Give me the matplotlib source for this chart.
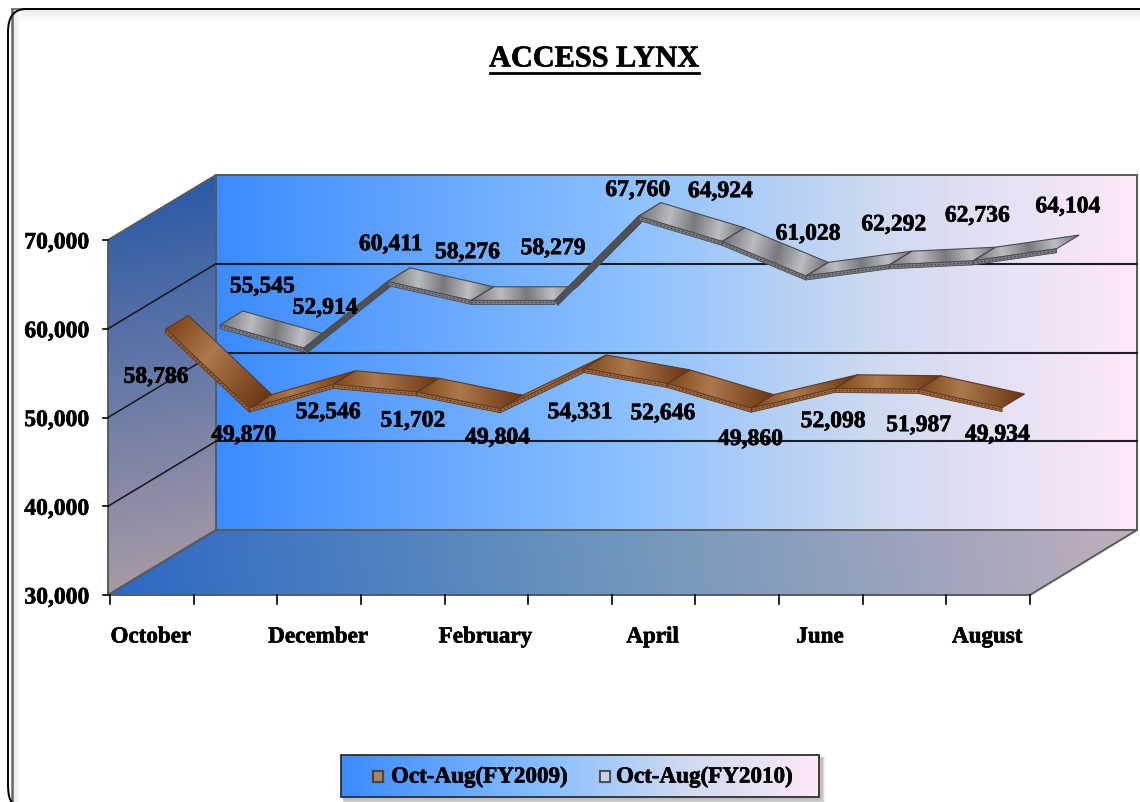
import numpy as np
import matplotlib
matplotlib.use("Agg")
import matplotlib.pyplot as plt
import matplotlib.patheffects as pe
from matplotlib.colors import LinearSegmentedColormap
from matplotlib.patches import Polygon, PathPatch, Rectangle
from matplotlib.path import Path

plt.rcParams["font.family"] = ["Liberation Serif", "DejaVu Serif"]
plt.rcParams["font.weight"] = "bold"

# Monthly values
FY2009 = [58786, 49870, 52546, 51702, 49804, 54331, 52646, 49860, 52098, 51987, 49934]
FY2010 = [55545, 52914, 60411, 58276, 58279, 67760, 64924, 61028, 62292, 62736, 64104]
MONTHS = ["October", "December", "February", "April", "June", "August"]
Y_TICKS = [30000, 40000, 50000, 60000, 70000]
SERIES_NAMES = ["Oct-Aug(FY2009)", "Oct-Aug(FY2010)"]

# Where each value label sits relative to the middle of its ribbon, in pixels
OFFSETS_2009 = [(-21, 50), (-17, 29), (-16, 30), (-15, 31), (-14, 31), (-15, 46),
                (-16, 32), (-12, 33), (-13, 35), (-11, 38), (-16, 29)]
OFFSETS_2010 = [(31, -36), (10, -38), (-8, -35), (-15, -46), (-13, -50), (-12, -24),
                (-13, -48), (-9, -40), (-7, -38), (-7, -43), (0, -40)]

# Projection of the box: front plane plus a depth vector towards the back wall
X0, X1 = 110, 1030
Y_BASE = 596
PX_PER_UNIT = 88.75 / 10000
DEPTH_X, DEPTH_Y = 107, -65
CAT_W = (X1 - X0) / len(FY2009)

HEAVY = [pe.withStroke(linewidth=0.45, foreground="black")]


def project(i, value, depth=0.0):
    x = X0 + (i + 0.5) * CAT_W + depth * DEPTH_X
    y = Y_BASE - (value - Y_TICKS[0]) * PX_PER_UNIT + depth * DEPTH_Y
    return x, y


def value_y(value):
    return Y_BASE - (value - Y_TICKS[0]) * PX_PER_UNIT


def gradient(ax, poly, cmap, direction, zorder=1):
    """Fill a polygon with a linear gradient along direction."""
    poly = np.asarray(poly, dtype=float)
    xmin, ymin = np.floor(poly.min(axis=0))
    xmax, ymax = np.ceil(poly.max(axis=0))
    xs = np.arange(xmin, xmax + 1)
    ys = np.arange(ymin, ymax + 1)
    gx, gy = np.meshgrid(xs, ys)
    d = np.asarray(direction, dtype=float)
    d = d / np.hypot(*d)
    along = poly @ d
    t = (gx * d[0] + gy * d[1] - along.min()) / max(along.max() - along.min(), 1e-6)
    im = ax.imshow(np.clip(t, 0, 1), cmap=cmap, vmin=0, vmax=1, aspect="auto",
                   extent=(xmin - 0.5, xmax + 0.5, ymax + 0.5, ymin - 0.5),
                   interpolation="bilinear", zorder=zorder)
    im.set_clip_path(Polygon(poly, closed=True, transform=ax.transData))


def ramp(colors):
    return LinearSegmentedColormap.from_list("ramp", colors)


WALL = ramp([(0, "#3b8bff"), (0.45, "#8cc1ff"), (0.72, "#cfdaf0"), (1, "#fde8f8")])
SIDE = ramp(["#2a5aa6", "#a89aa6"])
FLOOR = ramp(["#2c68c4", "#6f97bc", "#c0aebc"])
COPPER = ramp([(0, "#7f4719"), (0.4, "#ac794d"), (1, "#6a3410")])
STEEL = ramp([(0, "#707276"), (0.28, "#b9bbbe"), (0.52, "#77797d"), (0.76, "#bcbec1"), (1, "#6c6e72")])
SHADE = ramp(["#e8e8e8", "#ffffff"])


def ribbon(ax, values, d0, d1, cmap, band, under, edge, zorder):
    lift = -2
    thick = 4
    for i in range(len(values) - 1):
        a = np.array(project(i, values[i], d0)) + (0, lift)
        b = np.array(project(i + 1, values[i + 1], d0)) + (0, lift)
        c = np.array(project(i + 1, values[i + 1], d1)) + (0, lift)
        e = np.array(project(i, values[i], d1)) + (0, lift)
        run = b - a
        facing_up = run[0] * DEPTH_Y - run[1] * DEPTH_X < 0
        quad = [a, b, c, e]
        if facing_up:
            # sheen runs along the strip, slightly skewed
            gradient(ax, quad, cmap, (run[0] + 6, run[1] - 10), zorder=zorder)
            ax.add_patch(Polygon(quad, closed=True, fill=False, ec=edge, lw=0.8, zorder=zorder + 0.1))
            side = [a, b, b + (0, thick), a + (0, thick)]
            ax.add_patch(Polygon(side, closed=True, fc=band, ec=edge, lw=0.6, zorder=zorder + 0.2))
            ax.plot([a[0], b[0]], [a[1] + thick / 2, b[1] + thick / 2], color=edge, lw=0.9,
                    ls=(0, (1.5, 1.5)), zorder=zorder + 0.3)
        else:
            # underside shows when the line climbs steeply
            ax.add_patch(Polygon(quad, closed=True, fc=under, ec=edge, lw=0.8, zorder=zorder))
            side = [a, b, b + (3, thick + 1), a + (3, thick + 1)]
            ax.add_patch(Polygon(side, closed=True, fc=under, ec=edge, lw=0.6, zorder=zorder + 0.2))


def value_labels(ax, values, offsets, mid_depth):
    for i, (v, off) in enumerate(zip(values, offsets)):
        x, y = project(i, v, mid_depth)
        ax.text(x + off[0], y + off[1] + 3, f"{v:,}", ha="center", va="center",
                fontsize=17, color="black", zorder=20, path_effects=HEAVY)


fig = plt.figure(figsize=(11.4, 8.03), dpi=100, facecolor="white")
ax = fig.add_axes([0, 0, 1, 1])
ax.set_xlim(0, 1140)
ax.set_ylim(803, 0)
ax.set_autoscale_on(False)
ax.axis("off")

# Outer frame
gradient(ax, [(13, 10), (1140, 10), (1140, 22), (13, 22)], SHADE, (0, 1), zorder=0.2)
gradient(ax, [(13, 10), (21, 10), (21, 803), (13, 803)], SHADE, (1, 0), zorder=0.3)
ax.plot([11.5, 11.5], [803, 9.5], color="#666666", lw=1.8, zorder=0.5)
ax.plot([11.5, 26], [9.5, 9.5], color="#666666", lw=1.2, zorder=0.5)
frame = Path([(12, 803), (8, 800), (8, 785), (8, 33), (8, 10), (26, 10), (1140, 10)],
             [Path.MOVETO, Path.CURVE3, Path.CURVE3, Path.LINETO, Path.CURVE3, Path.CURVE3, Path.LINETO])
ax.add_patch(PathPatch(frame, fill=False, ec="black", lw=1.4, zorder=0.6))

ax.text(594, 60, "ACCESS LYNX", ha="center", va="center", fontsize=21.8, color="black",
        path_effects=HEAVY)
ax.plot([490, 699], [74, 74], color="black", lw=2)

# Box walls
top_y = value_y(Y_TICKS[-1])
bx0, bx1 = X0 + DEPTH_X - 1, X1 + DEPTH_X
back = [(bx0, top_y + DEPTH_Y), (bx1, top_y + DEPTH_Y), (bx1, Y_BASE + DEPTH_Y), (bx0, Y_BASE + DEPTH_Y)]
side = [(X0 - 2, top_y), (bx0, top_y + DEPTH_Y), (bx0, Y_BASE + DEPTH_Y), (X0 - 2, Y_BASE)]
floor = [(X0 - 2, Y_BASE), (bx0, Y_BASE + DEPTH_Y), (bx1, Y_BASE + DEPTH_Y), (X1, Y_BASE)]
gradient(ax, back, WALL, (1, 0), zorder=1)
gradient(ax, side, SIDE, (0.2, 1), zorder=1)
gradient(ax, floor, FLOOR, (1, -0.15), zorder=1)
for poly in (back, side, floor):
    ax.add_patch(Polygon(poly, closed=True, fill=False, ec="#5a5a5a", lw=1.4, zorder=2))

# Gridlines run across the side wall and the back wall
for v in Y_TICKS[1:-1]:
    y = value_y(v)
    ax.plot([X0 - 2, bx0], [y, y + DEPTH_Y], color="#151515", lw=1.1, zorder=2.5)
    ax.plot([bx0, bx1], [y + DEPTH_Y, y + DEPTH_Y], color="#1c1c2a", lw=1.5, zorder=2.5)

# Axis ticks and labels
for v in Y_TICKS:
    y = value_y(v)
    ax.plot([103, X0 - 2], [y, y], color="black", lw=1.2, zorder=3)
    ax.text(89, y + 3, f"{v:,}", ha="right", va="center", fontsize=17, color="black", path_effects=HEAVY)
for i in range(len(FY2009) + 1):
    x = X0 + i * CAT_W
    ax.plot([x, x], [Y_BASE, Y_BASE + 9], color="black", lw=1.2, zorder=3)
for k, month in enumerate(MONTHS):
    x = X0 + (2 * k + 0.5) * CAT_W
    ax.text(x - 1, 638, month, ha="center", va="center", fontsize=16.6, color="black", path_effects=HEAVY)

# The later year sits further back, so it goes down first
ribbon(ax, FY2010, 0.64, 0.85, STEEL, "#7c7e82", "#4f5154", "#4a4b4e", zorder=5)
ribbon(ax, FY2009, 0.13, 0.34, COPPER, "#a2683c", "#7b4a28", "#5d3a22", zorder=7)
value_labels(ax, FY2009, OFFSETS_2009, 0.235)
value_labels(ax, FY2010, OFFSETS_2010, 0.745)

# Legend
lx0, lx1, ly0, ly1 = 341, 819, 756, 798
for grow, alpha in ((4, 0.08), (3, 0.12), (2, 0.16)):
    ax.add_patch(Rectangle((lx0 + 2, ly0 + 2), lx1 - lx0 + grow, ly1 - ly0 + grow, fc="#404040",
                           ec="none", alpha=alpha, zorder=9))
legend_box = [(lx0, ly0), (lx1, ly0), (lx1, ly1), (lx0, ly1)]
gradient(ax, legend_box, WALL, (1, 0), zorder=10)
ax.add_patch(Polygon(legend_box, closed=True, fill=False, ec="#2e2e2e", lw=1.3, zorder=11))
swatches = [(378, "#a8845f", "#8a6a50"), (605, "#c8d2e4", "#9fb0cc")]
for (sx, face, halo), name, tx in zip(swatches, SERIES_NAMES, (391, 616)):
    ax.add_patch(Rectangle((sx - 7, 770), 14, 15, fc=halo, ec="none", alpha=0.35, zorder=11))
    ax.add_patch(Rectangle((sx - 5, 772), 10, 11, fc=face, ec="#3a3a3a", lw=1.2, zorder=12))
    ax.text(tx, 778, name, ha="left", va="center", fontsize=16.6, color="black", zorder=12,
            path_effects=HEAVY)

fig.savefig("out.png", dpi=100)
